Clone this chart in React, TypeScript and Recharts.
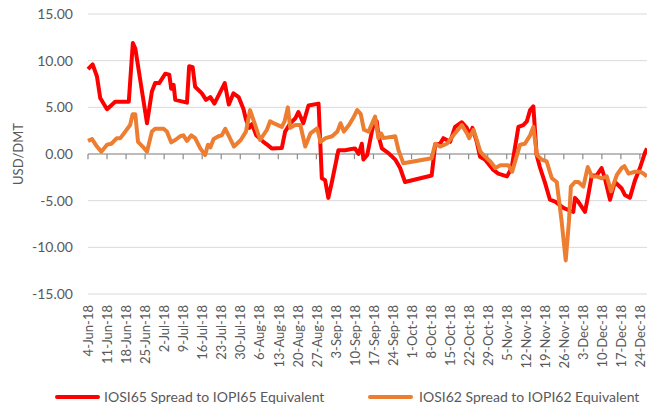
import {
  CartesianGrid,
  Line,
  LineChart,
  ReferenceLine,
  XAxis,
  YAxis,
} from "recharts";

// days counted from 4-Jun-18
const tickDays = [0, 7, 14, 21, 28, 35, 42, 49, 56, 63, 70, 77, 84, 91, 98, 105, 112, 119, 126, 133, 140, 147, 154, 161, 168, 175, 182, 189, 196, 203];
const tickLabels = [
  "4-Jun-18", "11-Jun-18", "18-Jun-18", "25-Jun-18", "2-Jul-18", "9-Jul-18", "16-Jul-18",
  "23-Jul-18", "30-Jul-18", "6-Aug-18", "13-Aug-18", "20-Aug-18", "27-Aug-18", "3-Sep-18",
  "10-Sep-18", "17-Sep-18", "24-Sep-18", "1-Oct-18", "8-Oct-18", "15-Oct-18", "22-Oct-18",
  "29-Oct-18", "5-Nov-18", "12-Nov-18", "19-Nov-18", "26-Nov-18", "3-Dec-18", "10-Dec-18",
  "17-Dec-18", "24-Dec-18",
];
const yTicks = [-15, -10, -5, 0, 5, 10, 15];

const iosi65Days = [
  0, 1.7, 3.3, 4.5, 7, 10, 15, 16.5, 17.4, 21.7, 23.5, 24.7, 26.2, 28.4, 29.9, 30.6, 31.5, 32.1,
  36.4, 37.2, 38.5, 39.4, 41.9, 43.4, 45, 46.5, 50.3, 51.8, 53.5, 55.4, 57.2, 58.1, 59.3, 60.3,
  61.9, 64.5, 65.9, 67.6, 71.3, 72.5, 74.4, 76.2, 77.4, 79.2, 81.1, 84.8, 86, 87.2, 88.4, 89.7,
  92.1, 94.6, 96.4, 98.2, 99.5, 100.7, 101.3, 102.7, 104.4, 105.2, 106.2, 106.8, 108.1, 110.5,
  113, 114.8, 116.6, 126.4, 127.7, 129.5, 130.7, 133.2, 135, 137.5, 139.3, 140.5, 141.4, 143,
  144.2, 146, 149.1, 150.9, 154.1, 155.8, 158.3, 160.1, 161.4, 162.6, 163.8, 165, 166.2, 168.1,
  169.9, 171.8, 175, 178.5, 179.1, 180.3, 182.8, 184, 185.3, 187.1, 188.9, 190.1,
  192, 193.8, 196.3, 197.5, 199.3, 201.2, 203, 204.8, 205.6,
];
const iosi65Values = [
  9.1, 9.6, 8.3, 6.0, 4.8, 5.6, 5.6, 11.9, 11.3, 3.3, 6.7, 7.6, 7.6, 8.6, 8.5, 7.0, 7.4, 5.8,
  5.5, 9.4, 9.3, 7.2, 6.5, 5.8, 6.1, 5.4, 7.6, 5.3, 6.5, 6.1, 4.8, 3.7, 2.8, 3.2,
  2.0, 1.3, 1.0, 0.6, 0.65, 2.4, 3.3, 3.8, 4.5, 3.3, 5.2, 5.4, -2.6, -2.8, -4.7, -3.0,
  0.4, 0.4, 0.5, 0.6, 0.0, 1.1, -0.6, -0.1, 2.4, 3.3, 3.5, 2.0, 0.6, 0.1,
  -0.6, -1.5, -3.0, -2.3, 1.0, 1.1, 1.7, 1.3, 2.9, 3.4, 2.8, 2.0, 2.8, 1.3,
  -0.3, -0.6, -1.7, -2.1, -2.4, -1.5, 2.9, 3.1, 3.5, 4.7, 5.1, -0.1, -1.4, -3.1,
  -4.9, -5.1, -5.8, -6.2, -4.7, -5.1, -6.2, -4.4, -2.3, -2.3, -1.5, -2.6,
  -4.9, -3.0, -3.7, -4.4, -4.7, -2.8, -1.5, 0.1, 0.6,
];

const iosi62Days = [
  0, 1.5, 3.3, 4.9, 7, 8.6, 10.6, 11.9, 13.7, 15.5, 16.4, 17.4, 18.4, 20.1, 21.7, 23.5, 24.7,
  27.8, 29, 30.6, 32.1, 33.9, 35.1, 36.4, 38, 39.4, 41.3, 43.1, 44.1, 45, 46.2, 48, 49.2, 50.5,
  51.7, 53.7, 56.2, 58.1, 59.6, 61.5, 63.3, 65.8, 67, 68.2, 71.3, 72.3, 73.5, 74.4, 76.2, 78.1,
  79.9, 81.8, 84.3, 85.5, 87.4, 89.8, 91.7, 92.9, 94.1, 96, 97.8, 99, 100.3, 101.5, 103.2, 105.6,
  106.8, 107.8, 108.7, 113, 114.2, 116, 126.4, 127.7, 129.5, 132, 134.4, 137.5, 139.4, 140.2,
  141.8, 143, 144.3, 146.1, 148, 149.8, 151.7, 154.6, 156, 158.9, 160.7, 162.6, 163.8, 165.1,
  166.9, 168.7, 170.6, 172.4, 174.2, 175.7, 176.9, 177.6, 179.1, 180.4, 182.2, 183.8, 185.3,
  187.1, 189, 190.8, 192.4, 194.5, 196.3, 197.3, 198.8, 201.2, 203.1, 204.3, 205.6,
];
const iosi62Values = [
  1.4, 1.6, 0.8, 0.25, 1.0, 1.1, 1.7, 1.7, 2.4, 3.1, 4.25, 4.25, 1.3, 0.8, 0.25, 2.4, 2.7,
  2.7, 2.4, 1.25, 1.5, 1.9, 2.0, 1.4, 2.0, 1.7, 0.6, -0.1, 1.0, 0.7, 1.6, 1.9, 2.0, 2.7,
  2.0, 0.8, 1.5, 2.4, 4.7, 3.1, 1.5, 2.6, 3.5, 3.3, 2.9, 3.5, 5.0, 2.8, 3.1, 3.1,
  0.8, 2.2, 2.75, 1.3, 1.7, 1.9, 2.4, 3.3, 2.4, 3.1, 4.0, 4.7, 4.3, 2.6, 2.4, 4.0,
  1.7, 2.2, 1.7, 1.9, 0.4, -1.0, -0.45, 1.1, 0.8, 1.1, 2.0, 3.1, 2.2, 1.7,
  2.6, 1.5, 0.25, -0.3, -0.8, -1.5, -1.2, -1.2, -1.9, 1.0, 1.1, 2.0, 2.9, -0.1,
  -0.6, -0.8, -2.6, -3.0, -7.2, -11.4, -7.2, -3.5, -3.0, -3.0, -3.5, -1.4, -2.4,
  -2.4, -2.6, -2.4, -4.0, -2.25, -1.5, -1.3, -2.1, -1.9, -1.9, -2.1, -2.4,
];

const iosi65 = iosi65Days.map((day, i) => ({ day, v: iosi65Values[i] }));
const iosi62 = iosi62Days.map((day, i) => ({ day, v: iosi62Values[i] }));

const FONT = "Lato, 'Liberation Sans', sans-serif";
const TEXT = "#595959";

function DateTick({ x, y, payload }: any) {
  const label = tickLabels[tickDays.indexOf(payload.value)] ?? "";
  return (
    <g transform={`translate(${x},${y})`}>
      <text
        x={0}
        y={0}
        dy="0.4em"
        transform="rotate(-90)"
        textAnchor="end"
        fill={TEXT}
        fontSize={13}
        fontFamily={FONT}
      >
        {label}
      </text>
    </g>
  );
}

export default function App() {
  return (
    <div style={{ position: "absolute", left: 0, top: 0, width: 647, height: 412, background: "#fff" }}>
      <LineChart width={647} height={412} margin={{ top: 14, right: 0, left: 0, bottom: 0 }}>
        <CartesianGrid vertical={false} stroke="#d9d9d9" />
        <XAxis
          type="number"
          dataKey="day"
          domain={[0, 205.6]}
          ticks={tickDays}
          interval={0}
          height={118}
          axisLine={false}
          tickLine={false}
          tickSize={0}
          tickMargin={11}
          tick={<DateTick />}
        />
        <YAxis
          domain={[-15, 15]}
          ticks={yTicks}
          width={88}
          axisLine={false}
          tickLine={false}
          tickSize={0}
          tickMargin={15}
          tickFormatter={(v: number) => v.toFixed(2)}
          tick={{ fill: TEXT, fontSize: 14, fontFamily: FONT }}
          label={{
            content: ({ viewBox }: any) => (
              <text
                x={0}
                y={0}
                transform={`translate(18,${viewBox.y + viewBox.height / 2}) rotate(-90)`}
                textAnchor="middle"
                dominantBaseline="central"
                fill={TEXT}
                fontSize={13}
                fontFamily={FONT}
              >
                USD/DMT
              </text>
            ),
          }}
        />
        <ReferenceLine y={0} stroke="#8c8c8c" strokeWidth={1.2} />
        {tickDays.map((d) => (
          <ReferenceLine
            key={d}
            segment={[{ x: d, y: 0 }, { x: d, y: -0.55 }]}
            stroke="#8c8c8c"
            strokeWidth={1.2}
          />
        ))}
        <Line
          data={iosi65}
          dataKey="v"
          type="linear"
          stroke="#ff0000"
          strokeWidth={4}
          strokeLinejoin="round"
          dot={false}
          isAnimationActive={false}
        />
        <Line
          data={iosi62}
          dataKey="v"
          type="linear"
          stroke="#ed7d31"
          strokeWidth={4}
          strokeLinejoin="round"
          dot={false}
          isAnimationActive={false}
        />
      </LineChart>
      <div style={{ position: "absolute", top: 388, left: 0, width: 647, height: 22, fontFamily: FONT, fontSize: 14, color: TEXT }}>
        <div style={{ position: "absolute", left: 55, top: 0, display: "flex", alignItems: "center", whiteSpace: "nowrap" }}>
          <span style={{ display: "inline-block", width: 45, height: 4, background: "#ff0000", borderRadius: 2, marginRight: 4 }} />
          <span>IOSI65 Spread to IOPI65 Equivalent</span>
        </div>
        <div style={{ position: "absolute", left: 368, top: 0, display: "flex", alignItems: "center", whiteSpace: "nowrap" }}>
          <span style={{ display: "inline-block", width: 45, height: 4, background: "#ed7d31", borderRadius: 2, marginRight: 6 }} />
          <span>IOSI62 Spread to IOPI62 Equivalent</span>
        </div>
      </div>
    </div>
  );
}
